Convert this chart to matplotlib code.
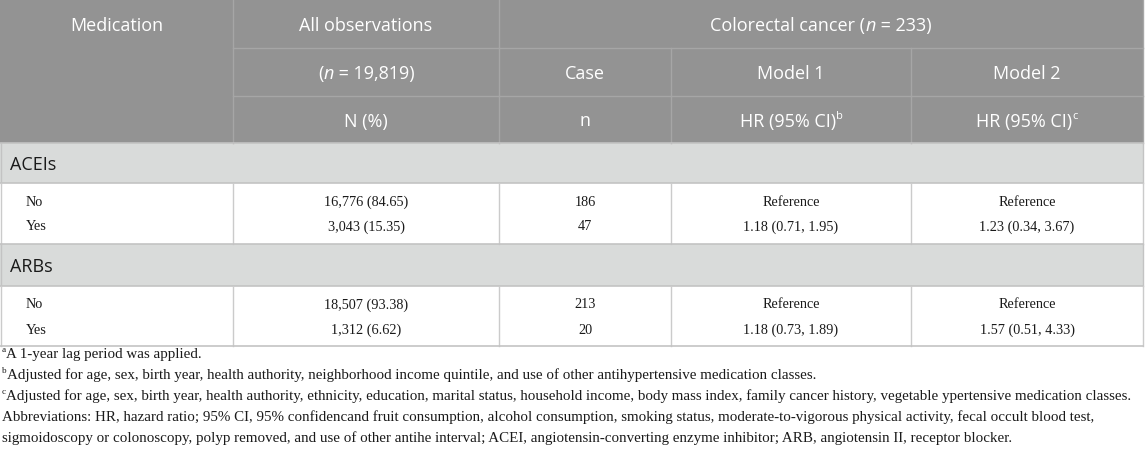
import matplotlib
matplotlib.use("Agg")
import matplotlib.pyplot as plt
from matplotlib.patches import Rectangle

# ---------------- data ----------------
groups = ["ACEIs", "ARBs"]
levels = ["No", "Yes"]
all_obs = [["16,776 (84.65)", "3,043 (15.35)"], ["18,507 (93.38)", "1,312 (6.62)"]]
cases = [["186", "47"], ["213", "20"]]
model1 = [["Reference", "1.18 (0.71, 1.95)"], ["Reference", "1.18 (0.73, 1.89)"]]
model2 = [["Reference", "1.23 (0.34, 3.67)"], ["Reference", "1.57 (0.51, 4.33)"]]
footnotes = [
    [("a", "sup"), ("A 1-year lag period was applied.", "n")],
    [("b", "sup"), ("Adjusted for age, sex, birth year, health authority, neighborhood income quintile, and use of other antihypertensive medication classes.", "n")],
    [("c", "sup"), ("Adjusted for age, sex, birth year, health authority, ethnicity, education, marital status, household income, body mass index, family cancer history, vegetable ypertensive medication classes.", "n")],
    [("Abbreviations: HR, hazard ratio; 95% CI, 95% confidencand fruit consumption, alcohol consumption, smoking status, moderate-to-vigorous physical activity, fecal occult blood test,", "n")],
    [("sigmoidoscopy or colonoscopy, polyp removed, and use of other antihe interval; ACEI, angiotensin-converting enzyme inhibitor; ARB, angiotensin II, receptor blocker.", "n")],
]

# ---------------- layout ----------------
W, H = 1145, 454
XR = 1143
cols = [0, 233, 499, 671, 911, XR]
hdr = [0, 48, 96, 143]
bands = [(143, 183), (244, 286)]
blocks = [(183, 244), (286, 346)]

HDR_BG = "#939393"
HDR_LINE = "#a6a6a6"
BAND_BG = "#d9dbda"
BAND_LINE = "#c3c3c3"
GRID = "#cbcbcb"
SANS = "Open Sans"
SERIF = "Liberation Serif"

fig = plt.figure(figsize=(W / 100, H / 100), dpi=100)
ax = fig.add_axes([0, 0, 1, 1])
ax.set_xlim(0, W)
ax.set_ylim(H, 0)
ax.axis("off")
renderer = fig.canvas.get_renderer()


def text_width(s, size, family, style="normal"):
    t1 = ax.text(0, 0, "X" + s + "X", fontsize=size, family=family, style=style)
    t2 = ax.text(0, 0, "XX", fontsize=size, family=family, style=style)
    w = t1.get_window_extent(renderer).width - t2.get_window_extent(renderer).width
    t1.remove()
    t2.remove()
    return w


def rich(x, yb, segs, size, family, color, ha="center"):
    parts = []
    for s, kind in segs:
        sz = size * 0.62 if kind == "sup" else size
        st = "italic" if kind == "i" else "normal"
        parts.append((s, sz, st, kind, text_width(s, sz, family, st)))
    total = sum(p[4] for p in parts)
    cx = x - total / 2 if ha == "center" else x
    for s, sz, st, kind, w in parts:
        dy = -size * 0.55 if kind == "sup" else 0
        ax.text(cx, yb + dy, s, fontsize=sz, family=family, style=st,
                color=color, ha="left", va="baseline")
        cx += w


# header background
ax.add_patch(Rectangle((0, 0), XR, hdr[-1], facecolor=HDR_BG, edgecolor="none"))
lw = 1.0
ax.plot([cols[1], XR], [hdr[1], hdr[1]], color=HDR_LINE, lw=lw)
ax.plot([cols[1], XR], [hdr[2], hdr[2]], color=HDR_LINE, lw=lw)
ax.plot([cols[1], cols[1]], [0, hdr[3]], color=HDR_LINE, lw=lw)
ax.plot([cols[2], cols[2]], [0, hdr[3]], color=HDR_LINE, lw=lw)
for c in cols[3:5]:
    ax.plot([c, c], [hdr[1], hdr[3]], color=HDR_LINE, lw=lw)
ax.plot([XR, XR], [0, hdr[3]], color=HDR_LINE, lw=lw)

# header text
HS = 13
W_ = "white"


def ctr(a, b):
    return (a + b) / 2


off = 7
rich(ctr(cols[0], cols[1]), ctr(hdr[0], hdr[1]) + off, [("Medication", "n")], HS, SANS, W_)
rich(ctr(cols[1], cols[2]), ctr(hdr[0], hdr[1]) + off, [("All observations", "n")], HS, SANS, W_)
rich(ctr(cols[2], cols[5]), ctr(hdr[0], hdr[1]) + off,
     [("Colorectal cancer (", "n"), ("n", "i"), (" = 233)", "n")], HS, SANS, W_)
rich(ctr(cols[1], cols[2]), ctr(hdr[1], hdr[2]) + off,
     [("(", "n"), ("n", "i"), (" = 19,819)", "n")], HS, SANS, W_)
rich(ctr(cols[2], cols[3]), ctr(hdr[1], hdr[2]) + off, [("Case", "n")], HS, SANS, W_)
rich(ctr(cols[3], cols[4]), ctr(hdr[1], hdr[2]) + off, [("Model 1", "n")], HS, SANS, W_)
rich(ctr(cols[4], cols[5]), ctr(hdr[1], hdr[2]) + off, [("Model 2", "n")], HS, SANS, W_)
rich(ctr(cols[1], cols[2]), ctr(hdr[2], hdr[3]) + off, [("N (%)", "n")], HS, SANS, W_)
rich(ctr(cols[2], cols[3]), ctr(hdr[2], hdr[3]) + off, [("n", "n")], HS, SANS, W_)
rich(ctr(cols[3], cols[4]), ctr(hdr[2], hdr[3]) + off, [("HR (95% CI)", "n"), ("b", "sup")], HS, SANS, W_)
rich(ctr(cols[4], cols[5]), ctr(hdr[2], hdr[3]) + off, [("HR (95% CI)", "n"), ("c", "sup")], HS, SANS, W_)

# bands and data
DS = 10.3
for gi, g in enumerate(groups):
    b0, b1 = bands[gi]
    ax.add_patch(Rectangle((0, b0), XR, b1 - b0, facecolor=BAND_BG, edgecolor="none"))
    ax.plot([0, XR], [b0, b0], color=BAND_LINE, lw=1.2)
    ax.plot([0, XR], [b1, b1], color=BAND_LINE, lw=1.2)
    ax.plot([0.5, 0.5], [b0, b1], color=BAND_LINE, lw=1.0)
    ax.plot([XR, XR], [b0, b1], color=BAND_LINE, lw=1.0)
    ax.text(10, ctr(b0, b1) + 7, g, fontsize=HS, family=SANS, color="#1a1a1a",
            ha="left", va="baseline")
    d0, d1 = blocks[gi]
    for c in [0.5] + cols[1:5] + [XR]:
        ax.plot([c, c], [d0, d1], color=GRID, lw=1.0)
    rowy = [d0 + 18, d0 + 43]
    for li, lev in enumerate(levels):
        yb = rowy[li] + 4.5
        ax.text(26, yb, lev, fontsize=DS, family=SERIF, color="#1a1a1a",
                ha="left", va="baseline")
        for ci, vals in enumerate([all_obs, cases, model1, model2]):
            ax.text(ctr(cols[ci + 1], cols[ci + 2]), yb, vals[gi][li], fontsize=DS,
                    family=SERIF, color="#1a1a1a", ha="center", va="baseline")
ax.plot([0, XR], [blocks[-1][1], blocks[-1][1]], color=BAND_LINE, lw=1.2)

# footnotes
fy = [353, 374, 395, 416, 437]
for i, segs in enumerate(footnotes):
    rich(2, fy[i] + 5, segs, 10.8, SERIF, "#1a1a1a", ha="left")

fig.savefig("out.png", dpi=100)
